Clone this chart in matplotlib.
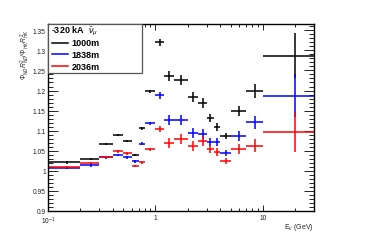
import numpy as np
import matplotlib
matplotlib.use("Agg")
import matplotlib.pyplot as plt
from matplotlib.patches import Rectangle
from matplotlib.ticker import MultipleLocator, LogLocator, FixedLocator, FixedFormatter, NullFormatter

plt.rcParams['font.family'] = ['Liberation Sans', 'DejaVu Sans']
plt.rcParams['mathtext.fontset'] = 'custom'
plt.rcParams['mathtext.rm'] = 'Liberation Sans'
plt.rcParams['mathtext.it'] = 'Liberation Sans:italic'
plt.rcParams['mathtext.bf'] = 'Liberation Sans:bold'

# bin edges in neutrino energy (GeV)
edges = [0.1, 0.2, 0.3, 0.4, 0.5, 0.6, 0.7, 0.8, 1.0, 1.2, 1.5, 2.0, 2.5,
         3.0, 3.5, 4.0, 5.0, 7.0, 10.0, 30.0]

# flux ratio per bin for each off-axis distance
ratio_1000 = [1.0205, 1.029, 1.066, 1.089, 1.0745, 1.0395, 1.1055, 1.198, 1.320,
              1.2355, 1.227, 1.184, 1.169, 1.1305, 1.1095, 1.087, 1.1495, 1.199, 1.287]
ratio_1838 = [1.007, 1.013, 1.033, 1.0395, 1.033, 1.023, 1.067, 1.118, 1.188,
              1.126, 1.126, 1.094, 1.091, 1.072, 1.0705, 1.044, 1.087, 1.1205, 1.187]
ratio_2036 = [1.009, 1.019, 1.034, 1.048, 1.043, 1.011, 1.0205, 1.053, 1.104,
              1.069, 1.079, 1.061, 1.0745, 1.054, 1.0455, 1.0245, 1.054, 1.062, 1.097]

err_1000 = [0.004, 0.003, 0.003, 0.003, 0.003, 0.003, 0.004, 0.004, 0.008,
            0.012, 0.012, 0.013, 0.012, 0.010, 0.010, 0.008, 0.012, 0.017, 0.056]
err_1838 = [0.003, 0.003, 0.003, 0.003, 0.003, 0.003, 0.004, 0.004, 0.008,
            0.012, 0.012, 0.012, 0.012, 0.010, 0.010, 0.008, 0.012, 0.016, 0.054]
err_2036 = [0.003, 0.003, 0.003, 0.003, 0.003, 0.003, 0.004, 0.004, 0.008,
            0.012, 0.012, 0.012, 0.012, 0.010, 0.010, 0.008, 0.012, 0.016, 0.050]

labels = ["1000m", "1838m", "2036m"]
colors = ["black", "#0000ff", "#ff0000"]

edges = np.array(edges)
centers = (edges[:-1] + edges[1:]) / 2
xerr = [centers - edges[:-1], edges[1:] - centers]

fig = plt.figure(figsize=(3.74, 2.53), dpi=100)
ax = fig.add_axes([0.128, 0.162, 0.712, 0.739])

for vals, errs, c in zip([ratio_1000, ratio_1838, ratio_2036],
                         [err_1000, err_1838, err_2036], colors):
    ax.errorbar(centers, vals, xerr=xerr, yerr=errs, fmt='none',
                ecolor=c, elinewidth=1.1, capsize=0)

ax.set_xscale('log')
ax.set_xlim(0.1, 30)
ax.set_ylim(0.899, 1.366)

# y ticks
ylabs = ["0.9", "0.95", "1", "1.05", "1.1", "1.15", "1.2", "1.25", "1.3", "1.35"]
ax.yaxis.set_major_locator(FixedLocator([0.9 + 0.05 * i for i in range(10)]))
ax.yaxis.set_major_formatter(FixedFormatter(ylabs))
ax.yaxis.set_minor_locator(MultipleLocator(0.01))

# x ticks
ax.xaxis.set_major_locator(FixedLocator([0.1, 1, 10]))
ax.xaxis.set_major_formatter(FixedFormatter([r"$10^{-1}$", "1", "10"]))
ax.xaxis.set_minor_locator(LogLocator(base=10, subs=np.arange(2, 10)))
ax.xaxis.set_minor_formatter(NullFormatter())

ax.tick_params(which='both', direction='in', top=True, right=True,
               labelsize=4.8, labelcolor='#222222', width=0.6)
ax.tick_params(axis='y', which='major', length=7, pad=1.5)
ax.tick_params(axis='y', which='minor', length=3.5)
ax.tick_params(axis='x', which='major', length=4, pad=2.5)
ax.tick_params(axis='x', which='minor', length=2.5)
for s in ax.spines.values():
    s.set_linewidth(1.0)

fig.text(25 / 374, 1 - 29 / 253, r"$\Phi_{ND}R^{2}_{ND}/\Phi_{HK}R^{2}_{HK}$",
         rotation=90, ha='center', va='top', fontsize=4.8, color='#222222')
fig.text(314 / 374, 1 - 228 / 253, r"E$_{\nu}$ (GeV)", ha='right', va='center',
         fontsize=5, color='#222222')

# legend box drawn by hand (ROOT style)
box_w = (142 - 48) / 266
box_h = (74 - 25) / 187
ax.add_patch(Rectangle((0, 1 - box_h), box_w, box_h, transform=ax.transAxes,
                       facecolor='white', edgecolor='#555555', lw=0.9, zorder=5))
ax.text(0.012, 0.968, r"-320 kA  $\bar{\nu}_{\mu}$", transform=ax.transAxes,
        fontsize=6.5, fontweight='bold', ha='left', va='center', zorder=6)
rows = [0.901, 0.838, 0.774]
for lab, c, yy in zip(labels, colors, rows):
    ax.plot([0.015, 0.075], [yy, yy], color=c, lw=1.1, transform=ax.transAxes,
            zorder=6, clip_on=False)
    ax.text(0.088, yy, lab, transform=ax.transAxes, fontsize=6.5,
            fontweight='bold', ha='left', va='center', zorder=6)

fig.savefig("out.png", dpi=100)
